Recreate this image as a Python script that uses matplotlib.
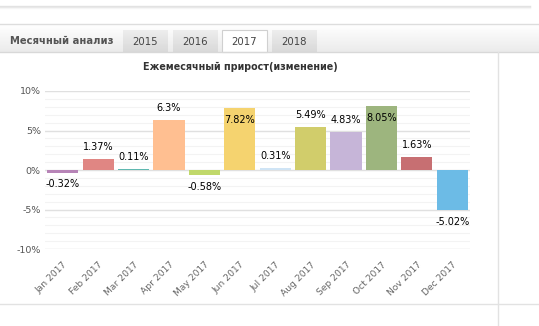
import numpy as np
import matplotlib
matplotlib.use("Agg")
import matplotlib.pyplot as plt
from matplotlib.lines import Line2D
from matplotlib.patches import Rectangle

# --- Datos ---
meses = ["Jan 2017", "Feb 2017", "Mar 2017", "Apr 2017", "May 2017", "Jun 2017",
         "Jul 2017", "Aug 2017", "Sep 2017", "Oct 2017", "Nov 2017", "Dec 2017"]
valores = [-0.32, 1.37, 0.11, 6.3, -0.58, 7.82, 0.31, 5.49, 4.83, 8.05, 1.63, -5.02]
etiquetas = ["-0.32%", "1.37%", "0.11%", "6.3%", "-0.58%", "7.82%",
             "0.31%", "5.49%", "4.83%", "8.05%", "1.63%", "-5.02%"]
colores = ["#b784b7", "#e08683", "#5fb8b0", "#ffbf91", "#c0d86a", "#f5d36f",
           "#cfe4f5", "#d1cd6b", "#c6b5d8", "#9db57e", "#c76f72", "#6cbbe6"]
pestanas = ["2015", "2016", "2017", "2018"]
titulo = "Ежемесячный прирост(изменение)"

W, H = 539, 326
plt.rcParams["font.family"] = ["DejaVu Sans"]

fig = plt.figure(figsize=(W / 100, H / 100), dpi=100)
fig.patch.set_facecolor("white")

def fx(px):
    return px / W

def fy(py):
    return 1 - py / H

# --- Decoración de la página ---
for i, a in enumerate([0.25, 0.15, 0.07]):
    fig.add_artist(Line2D([0, fx(530)], [fy(6 + i), fy(6 + i)], color="#999999",
                          alpha=a, lw=1))
# barra de pestañas con degradado
grad = np.linspace(1.0, 0.92, 50).reshape(-1, 1)
ax_bg = fig.add_axes([0, fy(52), 1, fy(24) - fy(52)])
ax_bg.imshow(grad, aspect="auto", cmap="gray", vmin=0, vmax=1, extent=[0, 1, 0, 1])
ax_bg.set_axis_off()
fig.add_artist(Line2D([0, 1], [fy(24), fy(24)], color="#dddddd", lw=1))
fig.add_artist(Line2D([0, 1], [fy(52), fy(52)], color="#d8d8d8", lw=1))

fig.text(fx(10), fy(41), "Месячный анализ", fontsize=7.2, fontweight="bold",
         color="#555555", va="center", ha="left")
tab_x = [123, 173, 222, 272]
tab_grad = np.linspace(0.93, 0.85, 30).reshape(-1, 1)
for x0, nombre in zip(tab_x, pestanas):
    activo = nombre == "2017"
    caja = [fx(x0), fy(52), fx(45), fy(30) - fy(52)]
    if activo:
        fig.add_artist(Rectangle(caja[:2], caja[2], caja[3], facecolor="white",
                                 edgecolor="#d0d0d0", lw=0.8))
    else:
        ax_t = fig.add_axes(caja)
        ax_t.imshow(tab_grad, aspect="auto", cmap="gray", vmin=0, vmax=1,
                    extent=[0, 1, 0, 1])
        ax_t.set_axis_off()
    fig.text(fx(x0 + 22.5), fy(42), nombre, fontsize=7.3, color="#444444",
             ha="center", va="center")

fig.add_artist(Line2D([fx(498), fx(498)], [fy(52), 0], color="#e2e2e2", lw=1))
fig.add_artist(Line2D([0, 1], [fy(304), fy(304)], color="#e2e2e2", lw=1))

# --- Gráfico ---
ax = fig.add_axes([fx(45), fy(249), fx(470) - fx(45), fy(91) - fy(249)])
x = np.arange(len(meses))
ax.bar(x, valores, width=0.88, color=colores, zorder=3)

ax.set_xlim(-0.5, len(meses) - 0.5)
ax.set_ylim(-10, 10)
ax.set_yticks([-10, -5, 0, 5, 10])
ax.set_yticklabels(["-10%", "-5%", "0%", "5%", "10%"], fontsize=6.8, color="#555555")
ax.set_yticks(np.arange(-10, 11, 1), minor=True)
ax.grid(axis="y", which="major", color="#e0e0e0", lw=1, zorder=0)
ax.grid(axis="y", which="minor", color="#f3f3f3", lw=0.8, zorder=0)
ax.tick_params(axis="y", which="both", length=0, pad=3)
ax.set_xticks(x)
ax.set_xticklabels(meses, rotation=45, ha="right", rotation_mode="anchor",
                   fontsize=6.6, color="#666666")
ax.tick_params(axis="x", length=0, pad=8)
for s in ax.spines.values():
    s.set_visible(False)

desp = 8.6  # puntos
for xi, v, txt in zip(x, valores, etiquetas):
    if v >= 0:
        off = desp if v < 7.5 else -desp
    else:
        off = -desp
    ax.annotate(txt, (xi, v), xytext=(0, off), textcoords="offset points",
                ha="center", va="center", fontsize=7, color="black", zorder=5)

fig.text(fx(240), fy(67), titulo, fontsize=6.9, fontweight="bold",
         color="#333333", ha="center", va="center")

fig.savefig("out.png", dpi=100)
